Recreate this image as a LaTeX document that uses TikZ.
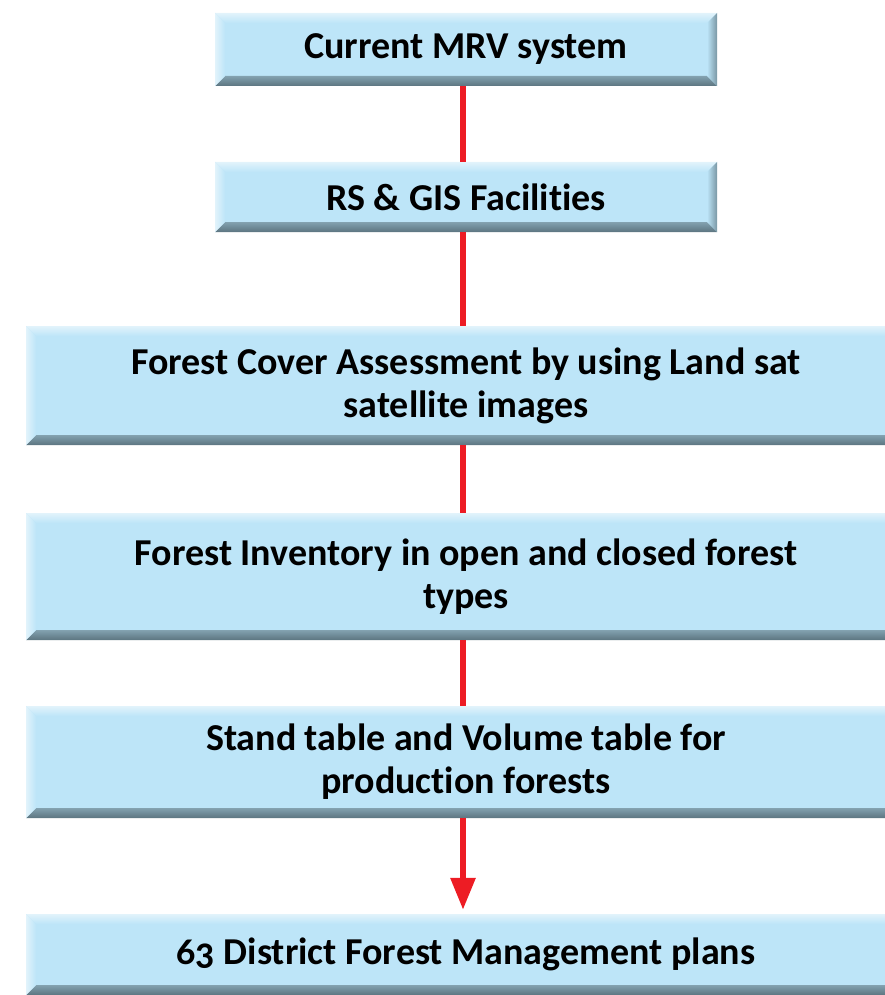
\documentclass[tikz,border=0pt]{standalone}
\usepackage{fontspec}
\setmainfont[Numbers=OldStyle,Ligatures=NoCommon]{Carlito}
\usetikzlibrary{arrows.meta,calc}
\definecolor{boxfill}{HTML}{BDE5F8}
\definecolor{bevtop}{HTML}{E2F3FB}
\definecolor{bevbot}{HTML}{5C7580}
\definecolor{arrowred}{HTML}{ED1C24}
\tikzset{
  bevbox/.style={draw=none, fill=boxfill, inner sep=0pt, align=center,
    font=\bfseries\fontsize{38}{43}\selectfont,
    path picture={
      \path (path picture bounding box.north west) coordinate (pnw)
            (path picture bounding box.south east) coordinate (pse);
      \shade[top color=bevtop, bottom color=boxfill] let \p1=(pnw), \p2=(pse) in
        (\x1,\y1) -- (\x2,\y1) -- (\x2-10pt,\y1-10pt) -- (\x1+10pt,\y1-10pt) -- cycle;
      \shade[top color=boxfill!40!bevbot, bottom color=bevbot] let \p1=(pnw), \p2=(pse) in
        (\x1,\y2) -- (\x2,\y2) -- (\x2-10pt,\y2+10pt) -- (\x1+10pt,\y2+10pt) -- cycle;
      \shade[left color=bevtop, right color=boxfill] let \p1=(pnw), \p2=(pse) in
        (\x1,\y1) -- (\x1+10pt,\y1-10pt) -- (\x1+10pt,\y2+10pt) -- (\x1,\y2) -- cycle;
      \shade[left color=boxfill, right color=boxfill!30!bevbot] let \p1=(pnw), \p2=(pse) in
        (\x2,\y1) -- (\x2-10pt,\y1-10pt) -- (\x2-10pt,\y2+10pt) -- (\x2,\y2) -- cycle;
    }},
  redline/.style={draw=arrowred, line width=6pt}
}
\begin{document}
\begin{tikzpicture}[x=1pt,y=1pt]
\useasboundingbox (0,0) rectangle (885,-995);
\clip (0,0) rectangle (885,-995);
\node[bevbox, minimum width=502pt, minimum height=73pt] (a) at (466,-49.5) {Current MRV system};
\node[bevbox, minimum width=502pt, minimum height=70pt] (b) at (466,-197) {RS \& GIS Facilities};
\node[bevbox, minimum width=880pt, minimum height=119pt] (c) at (466,-385.5) {Forest Cover Assessment by using Land sat\\satellite images};
\node[bevbox, minimum width=880pt, minimum height=127pt] (d) at (466,-576.5) {Forest Inventory in open and closed forest\\types};
\node[bevbox, minimum width=880pt, minimum height=112pt] (e) at (466,-762) {Stand table and Volume table for\\production forests};
\node[bevbox, minimum width=880pt, minimum height=81pt] (f) at (466,-954.5) {63 District Forest Management plans};
\draw[redline] ([xshift=-3pt]a.south) -- ([xshift=-3pt]b.north);
\draw[redline] ([xshift=-3pt]b.south) -- ([xshift=-3pt]c.north);
\draw[redline] ([xshift=-3pt]c.south) -- ([xshift=-3pt]d.north);
\draw[redline] ([xshift=-3pt]d.south) -- ([xshift=-3pt]e.north);
\draw[redline, -{Triangle[width=24pt,length=32pt]}, shorten >=4pt] ([xshift=-3pt]e.south) -- ([xshift=-3pt]f.north);
\end{tikzpicture}
\end{document}
